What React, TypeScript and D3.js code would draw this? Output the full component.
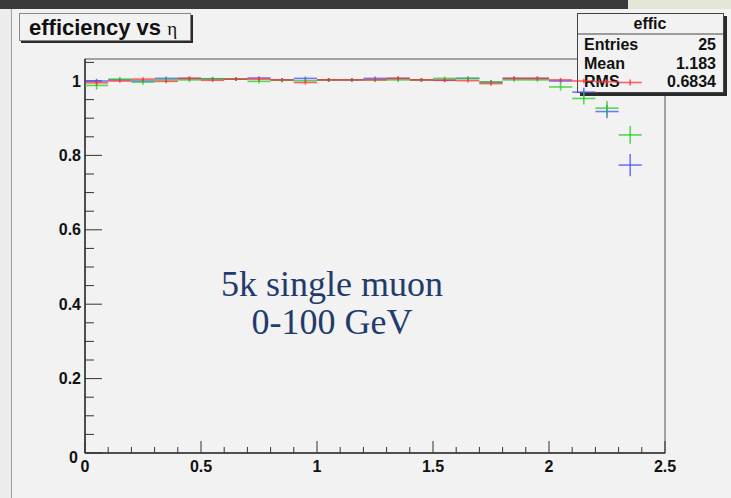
import React from 'react';
import * as d3 from 'd3';

// eta bin centres (bin width 0.1)
const etaBins = [
  0.05, 0.15, 0.25, 0.35, 0.45, 0.55, 0.65, 0.75, 0.85, 0.95, 1.05, 1.15,
  1.25, 1.35, 1.45, 1.55, 1.65, 1.75, 1.85, 1.95, 2.05, 2.15, 2.25, 2.35,
];

const redEff = [
  0.995, 1.0, 1.005, 0.999, 1.007, 1.002, 1.005, 1.005, 1.003, 0.996, 1.003, 1.003,
  1.003, 1.007, 1.003, 1.002, 1.001, 0.993, 1.007, 1.007, 1.003, 1.0, 0.998, 0.996,
];
const redErr = [
  0.006, 0.005, 0.005, 0.005, 0.005, 0.005, 0.005, 0.005, 0.005, 0.006, 0.005, 0.005,
  0.005, 0.005, 0.005, 0.005, 0.005, 0.006, 0.005, 0.005, 0.005, 0.006, 0.007, 0.008,
];

const blueEff = [
  1.0, 1.003, 1.0, 1.007, 1.007, 1.006, 1.005, 1.008, 1.003, 1.007, 1.003, 1.003,
  1.007, 1.007, 1.003, 1.002, 1.007, 0.997, 1.007, 1.007, 1.0, 0.97, 0.918, 0.774,
];
const blueErr = [
  0.006, 0.005, 0.005, 0.005, 0.005, 0.005, 0.005, 0.005, 0.005, 0.005, 0.005, 0.005,
  0.005, 0.005, 0.005, 0.005, 0.005, 0.006, 0.005, 0.005, 0.006, 0.012, 0.018, 0.03,
];

const greenEff = [
  0.988, 1.005, 0.997, 1.003, 1.003, 1.006, 1.005, 0.999, 1.002, 1.001, 1.003, 1.003,
  1.003, 1.003, 1.003, 1.007, 1.007, 0.997, 1.003, 1.003, 0.984, 0.953, 0.927, 0.855,
];
const greenErr = [
  0.011, 0.006, 0.007, 0.006, 0.006, 0.005, 0.005, 0.006, 0.006, 0.006, 0.005, 0.005,
  0.005, 0.006, 0.005, 0.005, 0.005, 0.006, 0.005, 0.005, 0.01, 0.016, 0.019, 0.024,
];

const xTickLabels = ['0', '0.5', '1', '1.5', '2', '2.5'];
const yTickLabels = ['0', '0.2', '0.4', '0.6', '0.8', '1'];

const statsTitle = 'effic';
const statsNames = ['Entries', 'Mean', 'RMS'];
const statsValues = ['25', '1.183', '0.6834'];

const W = 731;
const H = 498;
const frame = { left: 85, right: 665, top: 59, bottom: 453 };
const sans = '"Liberation Sans", Arial, Helvetica, sans-serif';
const serif = '"Liberation Serif", "Times New Roman", serif';

const App = () => {
  const x = d3.scaleLinear().domain([0, 2.5]).range([frame.left, frame.right]);
  const y = d3.scaleLinear().domain([0, 1]).range([frame.bottom, 81]);
  const half = 0.05;

  const xMinor = d3.range(0, 2.5001, 0.1);
  const yMinor = d3.range(0, 1.0601, 0.05).filter((v) => y(v) >= frame.top);

  const series = [
    { name: 'blue', eff: blueEff, err: blueErr, color: '#4a4aff' },
    { name: 'green', eff: greenEff, err: greenErr, color: '#1fcf1f' },
    { name: 'red', eff: redEff, err: redErr, color: '#ff3030' },
  ];

  return (
    <svg
      width={W}
      height={H}
      style={{ position: 'absolute', left: 0, top: 0, background: '#f2f2f2' }}>
      <rect x={0} y={0} width={W} height={H} fill="#f2f2f2" />
      {/* window chrome */}
      <rect x={0} y={0} width={628} height={9} fill="#3a3a3a" />
      <rect x={628} y={0} width={W - 628} height={9} fill="#e4e6d6" />
      <rect x={0} y={9} width={11} height={H - 9} fill="#ececec" />
      <line x1={11.5} x2={11.5} y1={9} y2={H} stroke="#a0a0a0" strokeWidth={1} />

      {/* frame */}
      <rect
        x={frame.left}
        y={frame.top}
        width={frame.right - frame.left}
        height={frame.bottom - frame.top}
        fill="none"
        stroke="#555"
        strokeWidth={1}
      />

      {/* x axis */}
      <line x1={frame.left} x2={frame.right} y1={frame.bottom} y2={frame.bottom} stroke="#333" strokeWidth={1.5} />
      {xMinor.map((v, i) => {
        const major = i % 5 === 0;
        return (
          <line
            key={'xm' + i}
            x1={x(v)}
            x2={x(v)}
            y1={frame.bottom}
            y2={frame.bottom - (major ? 12 : 6)}
            stroke="#333"
            strokeWidth={1}
          />
        );
      })}
      {xTickLabels.map((t) => (
        <text
          key={'xl' + t}
          x={x(+t)}
          y={472}
          textAnchor="middle"
          fontFamily={sans}
          fontWeight="bold"
          fontSize={16}
          fill="#111">
          {t}
        </text>
      ))}

      {/* y axis */}
      <line x1={frame.left} x2={frame.left} y1={frame.top} y2={frame.bottom} stroke="#333" strokeWidth={1.5} />
      {yMinor.map((v, i) => {
        const major = i % 4 === 0;
        return (
          <line
            key={'ym' + i}
            x1={frame.left}
            x2={frame.left + (major ? 17 : 9)}
            y1={y(v)}
            y2={y(v)}
            stroke="#333"
            strokeWidth={1}
          />
        );
      })}
      {yTickLabels.map((t) => (
        <text
          key={'yl' + t}
          x={t === '0' ? 78 : 81}
          y={y(+t) + (t === '0' ? 4 : 0)}
          dy="0.35em"
          textAnchor="end"
          fontFamily={sans}
          fontWeight="bold"
          fontSize={16}
          fill="#111">
          {t}
        </text>
      ))}

      {/* stats box */}
      <rect x={580} y={16} width={147} height={80} fill="#2a2a2a" />
      <rect x={577.5} y={13.5} width={146} height={79} fill="#f2f2f2" stroke="#444" strokeWidth={1} />
      <line x1={577.5} x2={723.5} y1={34} y2={34} stroke="#444" strokeWidth={1} />
      <text x={650} y={29} textAnchor="middle" fontFamily={sans} fontWeight="bold" fontSize={16} fill="#111">
        {statsTitle}
      </text>
      {statsNames.map((n, i) => (
        <g key={n}>
          <text x={584} y={50 + i * 18.5} fontFamily={sans} fontWeight="bold" fontSize={16} fill="#111">
            {n}
          </text>
          <text x={716} y={50 + i * 18.5} textAnchor="end" fontFamily={sans} fontWeight="bold" fontSize={16} fill="#111">
            {statsValues[i]}
          </text>
        </g>
      ))}

      {/* data: horizontal bin-width bars plus vertical error bars */}
      {series.map((s) => (
        <g key={s.name} stroke={s.color} strokeOpacity={0.75} strokeWidth={1.6} fill="none">
          {etaBins.map((c, i) => (
            <g key={i}>
              <line x1={x(c - half)} x2={x(c + half)} y1={y(s.eff[i])} y2={y(s.eff[i])} />
              <line x1={x(c)} x2={x(c)} y1={y(s.eff[i] - s.err[i])} y2={y(s.eff[i] + s.err[i])} />
            </g>
          ))}
        </g>
      ))}

      {/* title box */}
      <rect x={21} y={15} width={172} height={28} fill="#2a2a2a" />
      <rect x={19.5} y={13.5} width={171} height={27} fill="#f2f2f2" stroke="#888" strokeWidth={1} />
      <text x={29} y={35} fontFamily={sans} fontWeight="bold" fontSize={22} fill="#111">
        efficiency vs{' '}
        <tspan fontFamily={serif} fontWeight="normal" fontSize={19}>
          η
        </tspan>
      </text>

      {/* annotation */}
      <text x={332} y={296} textAnchor="middle" fontFamily={serif} fontSize={36} fill="#1f3c6c">
        5k single muon
      </text>
      <text x={332} y={334} textAnchor="middle" fontFamily={serif} fontSize={36} fill="#1f3c6c">
        0-100 GeV
      </text>
    </svg>
  );
};

export default App;
